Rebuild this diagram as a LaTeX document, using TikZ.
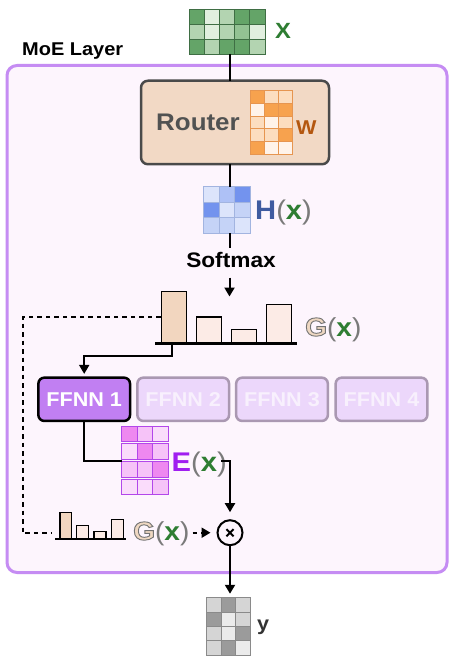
\documentclass[tikz,border=0pt]{standalone}
\usepackage{fontspec}
\setmainfont{Liberation Sans}[FakeStretch=1.08]
\newfontfamily\gfont{Liberation Sans}[FakeStretch=1.08,UprightFont=* Bold,FakeBold=3.5]
\usetikzlibrary{arrows.meta}
\definecolor{frameC}{HTML}{C58CF3}
\definecolor{frameF}{HTML}{FDF5FD}
\definecolor{routerF}{HTML}{F2D9C5}
\definecolor{routerD}{HTML}{4A4A4A}
\definecolor{routerTx}{HTML}{515252}
\definecolor{greenT}{HTML}{2E7D32}
\definecolor{parenC}{HTML}{7A7A7A}
\definecolor{hBlue}{HTML}{3F5BA0}
\definecolor{ePurple}{HTML}{A01EF0}
\definecolor{wBrown}{HTML}{B4570F}
\definecolor{ffnnA}{HTML}{C17FF2}
\definecolor{ffnnF}{HTML}{ECD7FB}
\definecolor{ffnnD}{HTML}{AA98B2}
\definecolor{ffnnT}{HTML}{F8F0FD}
\definecolor{barA}{HTML}{F2D6BF}
\definecolor{barB}{HTML}{FCEBE6}
\definecolor{yText}{HTML}{333333}
% matrix colours
\definecolor{gD}{HTML}{64A468}
\definecolor{gM}{HTML}{93C293}
\definecolor{gL}{HTML}{B3D4B1}
\definecolor{gV}{HTML}{E1EFDF}
\definecolor{xStroke}{HTML}{3F6E44}
\definecolor{oD}{HTML}{F7A24E}
\definecolor{oL}{HTML}{FCDDBF}
\definecolor{oV}{HTML}{FFF3EA}
\definecolor{wStroke}{HTML}{E69550}
\definecolor{bD}{HTML}{7393EE}
\definecolor{bM}{HTML}{AEC1F6}
\definecolor{bL}{HTML}{C5D3F7}
\definecolor{bV}{HTML}{DCE4FB}
\definecolor{hStroke}{HTML}{A2B4E0}
\definecolor{pD}{HTML}{EE88F0}
\definecolor{pL}{HTML}{F6C3F8}
\definecolor{pV}{HTML}{FADCFB}
\definecolor{eStroke}{HTML}{B347EA}
\definecolor{kD}{HTML}{9B9B9B}
\definecolor{kL}{HTML}{D5D5D5}
\definecolor{kV}{HTML}{EBEBEB}
\definecolor{yStroke}{HTML}{8A8A8A}

% #1 x0, #2 y0, #3 ncols, #4 cell width, #5 row step, #6 cell height, #7 stroke, #8 colours
\newcommand\mgrid[8]{%
  \foreach \mc [count=\i from 0] in {#8} {%
    \pgfmathtruncatemacro\mcol{mod(\i,#3)}%
    \pgfmathtruncatemacro\mrow{div(\i,#3)}%
    \filldraw[fill=\mc, draw=#7, line width=0.9pt] ({#1+\mcol*#4},{#2+\mrow*#5}) rectangle ++(#4,#6);
  }}
\newcommand\lpar{{\mdseries\color{parenC}(}}
\newcommand\rpar{{\mdseries\color{parenC})}}
\newcommand\gx{{\color{greenT}x}}
\newcommand\hollowG{{\special{pdf:bcolor [0.937 0.847 0.761] [0.45 0.45 0.45]}\gfont G\special{pdf:ecolor}}}

\begin{document}
\begin{tikzpicture}[x=1pt,y=-1pt,
  conn/.style={line width=2pt, draw=black},
  arr/.style={conn, -{Triangle[width=10pt,length=9pt]}},
  dashline/.style={line width=2pt, dash pattern=on 4.5pt off 4pt},
  dasharr/.style={dashline, -{Triangle[width=10pt,length=9pt]}},
  bar/.style={draw=black, line width=1.5pt, inner sep=0pt, anchor=south west},
  ffnn/.style={rounded corners=6pt, minimum width=91.7pt, minimum height=43.3pt, inner sep=0pt,
     font=\fontsize{20}{22}\selectfont\bfseries, line width=2.5pt},
  lbl/.style={anchor=base west, inner sep=0pt},
  box/.style={inner sep=0pt, outer sep=0pt}]
\useasboundingbox (0,0) rectangle (455,663);
\fill[white] (0,0) rectangle (455,663);

% MoE frame
\node[box, draw=frameC, fill=frameF, line width=3pt, rounded corners=10pt,
  minimum width=440pt, minimum height=507pt] (moe) at (227,319) {};
\node[lbl, font=\fontsize{18.5}{20}\selectfont\bfseries] (moelbl) at (22,56) {MoE Layer};

\coordinate (spine) at (229.5,0);

% input X
\node[box, minimum width=76pt, minimum height=45pt] (Xm) at (227,31.5) {};
\mgrid{189}{9}{5}{15.2}{15}{15}{xStroke}{gD,gV,gL,gD,gD,gL,gV,gL,gM,gV,gD,gL,gD,gD,gL}
\node[lbl, font=\fontsize{22}{24}\selectfont\bfseries, text=greenT] (Xl) at (275,39) {X};

% router
\node[box, draw=routerD, fill=routerF, line width=2.5pt, rounded corners=7pt,
  minimum width=188pt, minimum height=83.5pt] (router) at (235,122.5) {};
\node[lbl, font=\fontsize{24}{26}\selectfont\bfseries, text=routerTx] (routerlbl) at (156,131) {Router};
\node[box, minimum width=42.3pt, minimum height=63.3pt] (Wm) at (271.2,122.4) {};
\mgrid{250}{90.7}{3}{14.1}{12.66}{12.66}{wStroke}{oD,oL,oL,oV,oD,oD,oL,oV,oL,oL,oL,oD,oD,oV,oV}
\node[lbl, font=\fontsize{20}{22}\selectfont\bfseries, text=wBrown] (Wl) at (296,135) {W};

\draw[conn] (spine |- Xm.south) -- (spine |- router.north);

% H(x)
\node[box, minimum width=47.4pt, minimum height=46.6pt] (Hm) at (227,210) {};
\mgrid{203.3}{186.7}{3}{15.8}{15.55}{15.55}{hStroke}{bV,bM,bD,bD,bV,bL,bL,bL,bV}
\node[lbl, font=\fontsize{27}{29}\selectfont\bfseries] (Hl) at (255,219.5) {{\color{hBlue}H}\lpar\gx\rpar};
\draw[conn] (spine |- router.south) -- (spine |- Hm.north);

% softmax
\node[anchor=base, inner sep=0pt, font=\fontsize{21}{23}\selectfont\bfseries] (soft) at (231,267.5) {Softmax};
\coordinate (softTop) at (229.5,247.5);
\coordinate (softBot) at (229.5,277.7);
\draw[conn] (spine |- Hm.south) -- (softTop);
\coordinate (gTop) at (229.5,296.5);
\draw[arr] (softBot) -- (gTop);

% G(x) bar chart
\node[bar, fill=barA, minimum width=25pt, minimum height=51pt] (gb1) at (160.7,343.3) {};
\node[bar, fill=barB, minimum width=25pt, minimum height=25.6pt] (gb2) at (195.7,343.3) {};
\node[bar, fill=barB, minimum width=25pt, minimum height=13pt] (gb3) at (230.7,343.3) {};
\node[bar, fill=barB, minimum width=25pt, minimum height=38.3pt] (gb4) at (265.7,343.3) {};
\coordinate (gbL) at (155,343.3);
\coordinate (gbR) at (296.7,343.3);
\draw[line width=2.5pt] (gbL) -- (gbR);
\node[lbl, font=\fontsize{26}{28}\selectfont\bfseries] (Gl) at (305,336) {\hollowG\lpar\gx\rpar};

% experts
\node[ffnn, draw=black, fill=ffnnA, text=white] (f1) at (84.2,399.3) {FFNN 1};
\node[ffnn, draw=ffnnD, fill=ffnnF, text=ffnnT] (f2) at (183.2,399.3) {FFNN 2};
\node[ffnn, draw=ffnnD, fill=ffnnF, text=ffnnT] (f3) at (282,399.3) {FFNN 3};
\node[ffnn, draw=ffnnD, fill=ffnnF, text=ffnnT] (f4) at (381.5,399.3) {FFNN 4};

\coordinate (gSplit) at (171.7,343.3);
\draw[arr, shorten >=2.5pt] (gSplit) -- ++(0,12.7) -| (f1.north);

% E(x)
\node[box, minimum width=46.6pt, minimum height=69pt] (Em) at (145,460.7) {};
\mgrid{121.7}{426}{3}{15.53}{17.7}{15.6}{eStroke}{pD,pL,pV,pV,pD,pL,pL,pL,pD,pV,pV,pL}
\draw[conn] (f1.south) |- (Em.west);
\node[lbl, font=\fontsize{27}{29}\selectfont\bfseries] (El) at (171.5,471) {{\color{ePurple}E}\lpar\gx\rpar};

% multiply
\node[circle, draw=black, fill=frameF, line width=2pt, minimum size=25pt, inner sep=0pt] (mult) at (230,532.7) {};
\draw[line width=2pt] (mult.center) +(-3.6,-3.6) -- +(3.6,3.6);
\draw[line width=2pt] (mult.center) +(-3.6,3.6) -- +(3.6,-3.6);
\coordinate (eOut) at (221,460.7);
\draw[arr, shorten >=7pt] (eOut) -| (mult.north);

% small G(x)
\node[bar, fill=barA, minimum width=11.7pt, minimum height=26pt] (sb1) at (59,539.3) {};
\node[bar, fill=barB, minimum width=12pt, minimum height=13.3pt] (sb2) at (75.7,539.3) {};
\node[bar, fill=barB, minimum width=12pt, minimum height=7pt] (sb3) at (93.3,539.3) {};
\node[bar, fill=barB, minimum width=12pt, minimum height=19.3pt] (sb4) at (110.7,539.3) {};
\coordinate (sbL) at (55,539.3);
\coordinate (sbR) at (126,539.3);
\draw[line width=2.2pt] (sbL) -- (sbR);
\node[lbl, font=\fontsize{26}{28}\selectfont\bfseries] (sGl) at (133,540) {\hollowG\lpar\gx\rpar};
\draw[dasharr, shorten <=3pt, shorten >=6pt] (sGl.east |- mult) -- (mult.west);

% dashed gate path
\coordinate (dashEnd) at (51.7,533.3);
\coordinate (dashX) at (22.7,0);
\draw[dashline] (gb1.west) -| (dashX |- dashEnd) -- (dashEnd);

% output y
\node[box, minimum width=43.3pt, minimum height=57.3pt] (Ym) at (228.3,626.4) {};
\mgrid{206.7}{597.7}{3}{14.43}{14.33}{14.33}{yStroke}{kL,kD,kL,kD,kV,kL,kL,kV,kD,kL,kD,kV}
\draw[arr, shorten >=4pt] (mult.south) -- (mult.south |- Ym.north);
\node[lbl, font=\fontsize{20}{22}\selectfont\bfseries, text=yText] (yl) at (257,630.5) {y};
\end{tikzpicture}
\end{document}
